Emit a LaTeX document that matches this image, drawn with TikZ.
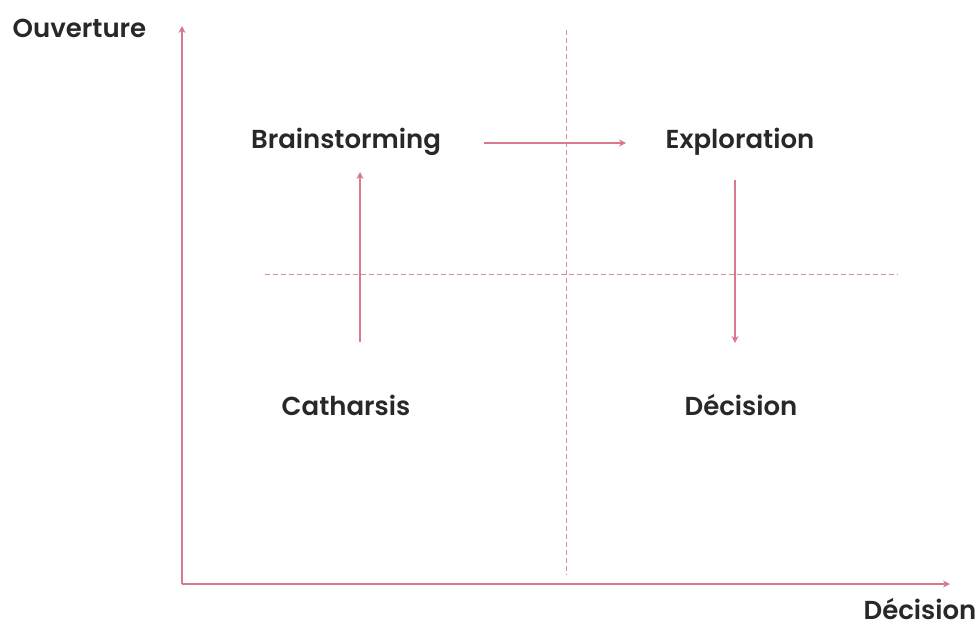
\documentclass[tikz,border=0pt]{standalone}
\usepackage{fontspec}
\setmainfont{Poppins}[BoldFont={Poppins SemiBold}]
\usetikzlibrary{arrows.meta}
\definecolor{axispink}{RGB}{214,122,142}
\definecolor{dashpink}{RGB}{218,140,158}
\definecolor{labelgray}{RGB}{40,40,40}
\tikzset{
  axis/.style={draw=axispink, line width=1.3pt, -{Stealth[length=7pt,width=7pt]}},
  guide/.style={draw=dashpink, line width=0.9pt, dash pattern=on 5pt off 3pt},
  flow/.style={draw=axispink, line width=1.1pt, -{Stealth[length=7pt,width=7pt]}},
  lbl/.style={text=labelgray, font=\fontsize{26}{31}\selectfont\bfseries, inner sep=0pt, anchor=base},
}
\begin{document}
\begin{tikzpicture}[x=1pt,y=-1pt]
\useasboundingbox (0,0) rectangle (979,627);
% axes
\coordinate (origin) at (182,584);
\coordinate (ytop) at (182,26);
\coordinate (xend) at (950,584);
\draw[axis] (origin) -- (ytop);
\draw[axis] (origin) -- (xend);
\node[lbl] (ylab) at (79.5,37) {Ouverture};
\node[lbl] (xlab) at (920,619) {Décision};
% quadrant guides
\coordinate (vtop) at (566,30);
\coordinate (vbot) at (566,575);
\coordinate (hl) at (265,274);
\coordinate (hr) at (898,274);
\draw[guide] (vtop) -- (vbot);
\draw[guide] (hl) -- (hr);
% quadrant labels
\node[lbl] (brain) at (346,148) {Brainstorming};
\node[lbl] (explo) at (740,148) {Exploration};
\node[lbl] (cath) at (346,415) {Catharsis};
\node[lbl] (deci) at (741,415) {Décision};
% flow arrows
\coordinate (a1s) at (484,143);
\coordinate (a1e) at (626,143);
\coordinate (a2s) at (360,342);
\coordinate (a2e) at (360,172);
\coordinate (a3s) at (735,180);
\coordinate (a3e) at (735,343);
\draw[flow] (a2s) -- (a2e);
\draw[flow] (a1s) -- (a1e);
\draw[flow] (a3s) -- (a3e);
\end{tikzpicture}
\end{document}
